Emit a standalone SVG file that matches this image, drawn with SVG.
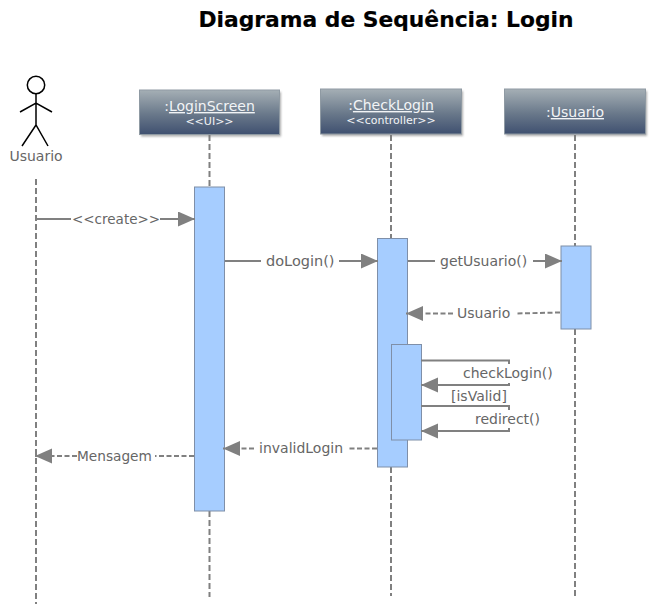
<svg xmlns="http://www.w3.org/2000/svg" width="654" height="608" viewBox="0 0 654 608">
<defs>
<linearGradient id="hd" x1="0" y1="0" x2="0" y2="1"><stop offset="0" stop-color="#a5afb5"/><stop offset=".55" stop-color="#69788a"/><stop offset="1" stop-color="#3f5070"/></linearGradient>
<filter id="bl" x="-5%" y="-15%" width="110%" height="130%"><feGaussianBlur stdDeviation="1.200"/></filter>
<marker id="ah" markerUnits="userSpaceOnUse" markerWidth="18" markerHeight="16" refX="17" refY="7.500" orient="auto"><path d="M0,0 L17,7.500 L0,15 Z" fill="#808080"/></marker>
</defs>
<style>
text{font-family:"DejaVu Sans",Verdana,sans-serif}
.t{font-size:21.800px;font-weight:bold;fill:#000;stroke:#000;stroke-width:.2}
.l{font-size:14px;fill:#666}
.n{font-size:14px;fill:#f2f4f6;text-anchor:middle}
.s{font-size:11px;fill:#f2f4f6;text-anchor:middle}
.u{text-decoration:underline}
.box{fill:url(#hd);stroke:#8f9aa3;stroke-width:1}
.sh{fill:#777;opacity:.6;filter:url(#bl)}
.act{fill:#a6cdff;stroke:#7f8fa8;stroke-width:1}
.life{stroke:#808080;stroke-width:2;stroke-dasharray:6 3;fill:none}
.m{stroke:#808080;stroke-width:2;fill:none}
.d{stroke:#808080;stroke-width:2;stroke-dasharray:5 2.500;fill:none}
</style>
<text class="t" x="386" y="27" text-anchor="middle">Diagrama de Sequência: Login</text>

<g id="lifelines">
<path class="life" d="M36 179V604"/>
<path class="life" d="M209.500 135V187M209.500 511V597"/>
<path class="life" d="M391 135V238M391 467V596"/>
<path class="life" d="M575 135V246M575 329V596"/>
</g>

<g id="actor-usuario">
<circle cx="36" cy="85" r="8.700" fill="#fff" stroke="#000" stroke-width="1.500"/>
<path d="M36 94V125M20 112L36 103L52 112M22 146L36 125L48 146" fill="none" stroke="#000" stroke-width="1.500"/>
<text class="l" x="36" y="161" text-anchor="middle">Usuario</text>
</g>

<g id="node-loginscreen">
<rect class="sh" x="141" y="92" width="140" height="44.500"/>
<rect class="box" x="139.500" y="90" width="140" height="44.500"/>
<text class="n" x="209.500" y="111">:<tspan class="u">LoginScreen</tspan></text>
<text class="s" x="209.500" y="125">&lt;&lt;UI&gt;&gt;</text>
</g>
<g id="node-checklogin">
<rect class="sh" x="322" y="91" width="141" height="45"/>
<rect class="box" x="320.500" y="89" width="141" height="45"/>
<text class="n" x="391" y="110">:<tspan class="u">CheckLogin</tspan></text>
<text class="s" x="391" y="124">&lt;&lt;controller&gt;&gt;</text>
</g>
<g id="node-usuario">
<rect class="sh" x="506" y="91" width="141" height="45"/>
<rect class="box" x="504.500" y="89" width="141" height="45"/>
<text class="n" x="575" y="117">:<tspan class="u">Usuario</tspan></text>
</g>

<g id="act-loginscreen"><rect class="act" x="194.500" y="187" width="30" height="324"/></g>
<g id="act-checklogin"><rect class="act" x="377.500" y="238.500" width="30" height="228.500"/></g>
<g id="act-checklogin-inner"><rect class="act" x="391.500" y="344.500" width="30" height="95.500"/></g>
<g id="act-usuario"><rect class="act" x="561" y="246" width="30" height="83"/></g>

<g id="connectors">
<path class="m" d="M36 219H71"/>
<path class="m" d="M160 219H195" marker-end="url(#ah)"/>
<path class="m" d="M225 261H261"/>
<path class="m" d="M339 261H378" marker-end="url(#ah)"/>
<path class="m" d="M408 261H435"/>
<path class="m" d="M533 261H562" marker-end="url(#ah)"/>
<path class="d" d="M560 312.500L516 313.500"/>
<path class="d" d="M453 313.500H406" marker-end="url(#ah)"/>
<path class="m" d="M421 360.500H509V364M509 383V385H421" marker-end="url(#ah)"/>
<path class="m" d="M421 406H509V410M509 428V431H421" marker-end="url(#ah)"/>
<path class="d" d="M377 448.500H347"/>
<path class="d" d="M254 448.500H223" marker-end="url(#ah)"/>
<path class="d" d="M194 456H155"/>
<path class="d" d="M77 456H35" marker-end="url(#ah)"/>
</g>

<g id="labels">
<text class="l" x="72" y="224" style="font-size:13.500px">&lt;&lt;create&gt;&gt;</text>
<text class="l" x="266" y="266" style="font-size:14.500px">doLogin()</text>
<text class="l" x="440" y="266">getUsuario()</text>
<text class="l" x="457" y="318">Usuario</text>
<text class="l" x="463" y="378">checkLogin()</text>
<text class="l" x="451" y="401">[isValid]</text>
<text class="l" x="475" y="424">redirect()</text>
<text class="l" x="259" y="453">invalidLogin</text>
<text class="l" x="77" y="461" style="font-size:13.700px">Mensagem</text>
</g>
</svg>
